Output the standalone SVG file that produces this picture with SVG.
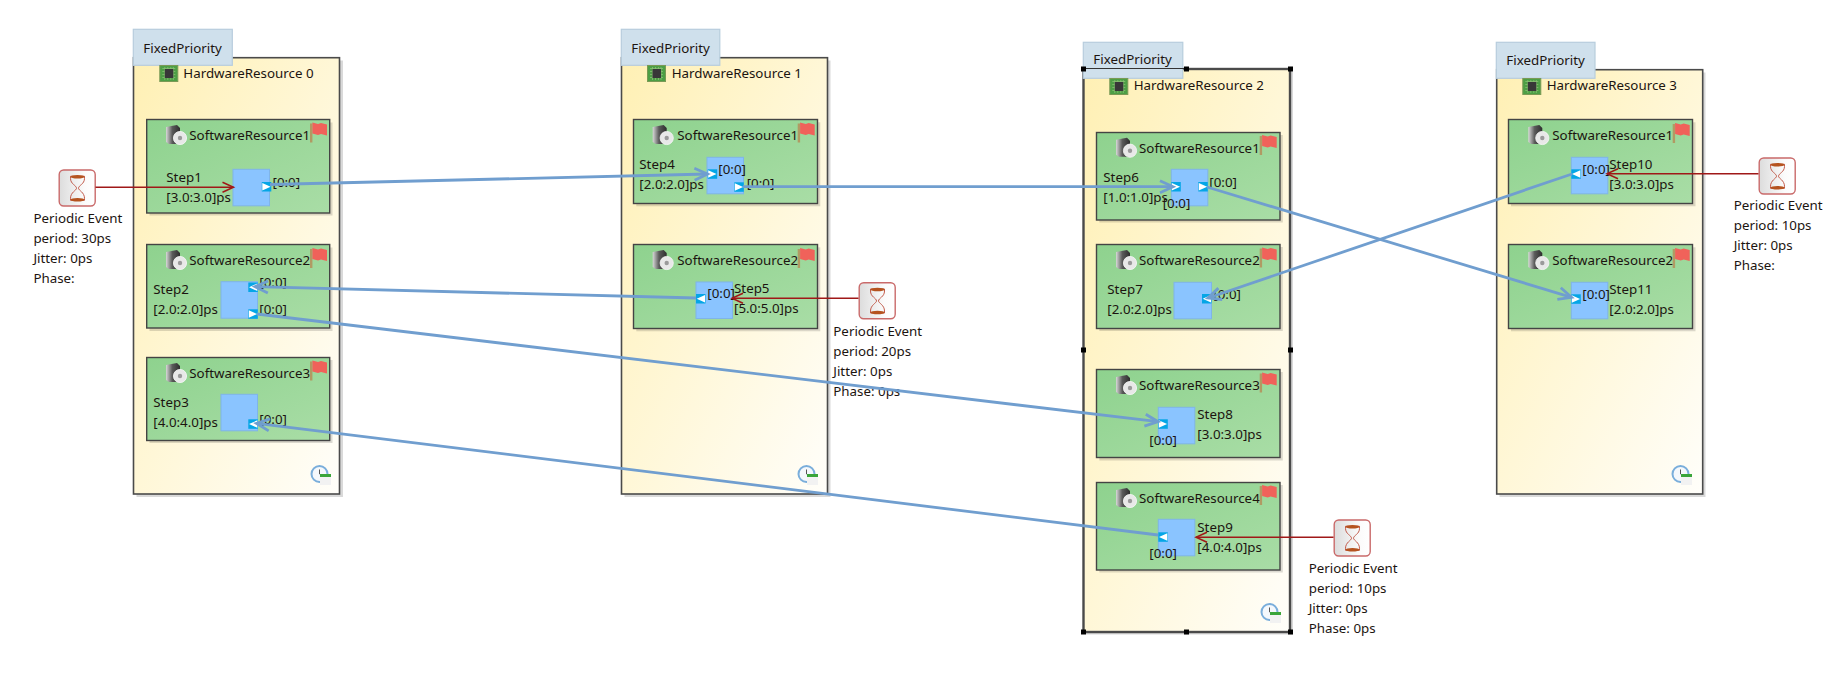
<svg xmlns="http://www.w3.org/2000/svg" width="1838" height="673" viewBox="0 0 1838 673">
<style>
text{font-family:"Noto Sans","Open Sans","Liberation Sans",sans-serif;font-size:13.33px;fill:#1c1410}
.hw{fill:url(#hwFill);stroke:#4a4a4a;stroke-width:1.6}
.hws{fill:#d9d9d9}
.sw{fill:url(#swFill);stroke:#444;stroke-width:1.4}
.sws{fill:#000;fill-opacity:.14}
.tab{fill:#cfe0ec;stroke:#b7cddd;stroke-width:1.2}
.step{fill:#8ac4ff;stroke:#7fb4e8;stroke-width:1}
.blue{fill:none;stroke:#709ecf;stroke-width:2.8}
.red{fill:none;stroke:#a01818;stroke-width:1.5}
.ev{fill:url(#evFill);stroke:#c96a6a;stroke-width:1.4}
.h{fill:#000}
</style>
<defs>
<linearGradient id="hwFill" x1="0" y1="0" x2="1" y2="1"><stop offset="0" stop-color="#fff0b4"/><stop offset="1" stop-color="#fffefa"/></linearGradient>
<linearGradient id="swFill" x1="0" y1="0" x2="1" y2="1"><stop offset="0" stop-color="#8ed28e"/><stop offset="1" stop-color="#a9dda6"/></linearGradient>
<linearGradient id="evFill" x1="0" y1="0" x2="1" y2="0"><stop offset="0" stop-color="#dcdcdc"/><stop offset=".7" stop-color="#fbfbfb"/><stop offset="1" stop-color="#fff"/></linearGradient>
<linearGradient id="hd" x1="0" y1="0" x2="1" y2="0"><stop offset="0" stop-color="#d8d8d8"/><stop offset=".45" stop-color="#5a5a5a"/><stop offset="1" stop-color="#2e2e2e"/></linearGradient>
<marker id="blueHead" markerUnits="userSpaceOnUse" markerWidth="20" markerHeight="20" viewBox="0 0 20 20" refX="16" refY="10" orient="auto"><path d="M3 4L16 10L3 16" fill="none" stroke="#709ecf" stroke-width="2.8"/></marker>
<marker id="redHead" markerUnits="userSpaceOnUse" markerWidth="20" markerHeight="20" viewBox="0 0 20 20" refX="15" refY="10" orient="auto"><path d="M4 5L15 10L4 15" fill="none" stroke="#a01818" stroke-width="1.5"/></marker>
<g id="chip"><rect x=".5" y=".5" width="18" height="16" fill="#4d9f45" stroke="#7a9a55"/><path d="M3 3.500H16M3 6.500H16M3 9.500H16M3 12.500H16M5.500 2V15M8.500 2V15M11.500 2V15M14 2V15" stroke="#a9d08c" stroke-width=".7" opacity=".75"/><rect x="5.500" y="4" width="8.500" height="9" fill="#383838"/></g>
<g id="disk"><path d="M0 2L11 0L14 3V19L3 19L0 17Z" fill="url(#hd)"/><circle cx="14" cy="13" r="6.600" fill="#e8e8e8" stroke="#f8f8f8" stroke-width=".8"/><circle cx="14" cy="13" r="2.200" fill="#9a9a9a"/></g>
<g id="flag"><rect x="0" y="2" width="2.400" height="19" fill="#b19a63"/><path d="M2.400 1L8 2.500L11 1.500L17 3V14L11 12.500L8 13.500L2.400 12Z" fill="#f0625a"/></g>
<g id="clock"><circle cx="8.500" cy="9" r="8" fill="#f4f8fc" stroke="#7aaedb" stroke-width="2"/><path d="M8.500 4.500V9L11.500 11" fill="none" stroke="#555" stroke-width="1"/><rect x="9" y="9" width="11" height="11" fill="#f2f2f2"/><rect x="9" y="9" width="11" height="3" fill="#3aa53a"/></g>
<g id="hourglass"><rect x=".7" y=".7" width="36" height="36" rx="4.500" class="ev"/><path d="M12 7H26L26 9C26 15 20 16 20 19C20 21 26 23 26 29V31H12V29C12 23 18 21 18 19C18 16 12 15 12 9Z" fill="none" stroke="#c25a4a" stroke-width="1"/><ellipse cx="19" cy="7.500" rx="7" ry="1.800" fill="#b5531f"/><ellipse cx="19" cy="30.500" rx="7" ry="1.800" fill="#b5531f"/></g>
<g id="portR"><rect width="9.500" height="9.500" fill="#05a6e6"/><path d="M.5 1L8.800 4.800L.5 8.500Z" fill="#fff"/></g>
<g id="portL"><rect width="9.500" height="9.500" fill="#05a6e6"/><path d="M9 1L.7 4.800L9 8.500Z" fill="#fff"/></g>
</defs>
<rect width="1838" height="673" fill="#fff"/>

<g id="hw0">
<rect class="hws" x="136.500" y="60.500" width="206.500" height="436.500"/>
<rect class="hw" x="133.500" y="57.700" width="206" height="436.300"/>
<rect class="tab" x="133.300" y="29.300" width="99" height="36"/>
<text x="143.300" y="52.700">FixedPriority</text>
<use href="#chip" x="159.300" y="65"/>
<text x="183.300" y="77.700">HardwareResource 0</text>
<use href="#clock" x="311" y="465"/>
</g>
<g id="hw0-sw1"><rect class="sws" x="149.500" y="122.500" width="183" height="93"/><rect class="sw" x="146.700" y="119.500" width="183" height="93.500"/><use href="#disk" x="166" y="125"/><text x="189.300" y="140">SoftwareResource1</text><use href="#flag" x="310" y="121.500"/></g>
<g id="hw0-sw2"><rect class="sws" x="149.500" y="247.500" width="183" height="83.500"/><rect class="sw" x="146.700" y="244.500" width="183" height="83.500"/><use href="#disk" x="166" y="250"/><text x="189.300" y="265">SoftwareResource2</text><use href="#flag" x="310" y="247"/></g>
<g id="hw0-sw3"><rect class="sws" x="149.500" y="360" width="183" height="83"/><rect class="sw" x="146.700" y="357.500" width="183" height="83"/><use href="#disk" x="166" y="363"/><text x="189.300" y="378">SoftwareResource3</text><use href="#flag" x="310" y="359.500"/></g>
<g id="step1"><rect class="step" x="233" y="169.300" width="36.500" height="36.500"/><use href="#portR" x="261.800" y="182"/><text x="166.300" y="182">Step1</text><text x="166.300" y="202">[3.0:3.0]ps</text><text x="272.500" y="187">[0:0]</text></g>
<g id="step2"><rect class="step" x="221" y="281.700" width="36.500" height="36.500"/><use href="#portL" x="248.300" y="282.500"/><use href="#portR" x="248.300" y="309.300"/><text x="153.300" y="294">Step2</text><text x="153.300" y="314">[2.0:2.0]ps</text><text x="259.300" y="287">[0:0]</text><text x="259.300" y="314.300">[0:0]</text></g>
<g id="step3"><rect class="step" x="221" y="394.300" width="36.500" height="36.500"/><use href="#portL" x="248.300" y="419.300"/><text x="153.300" y="406.700">Step3</text><text x="153.300" y="427">[4.0:4.0]ps</text><text x="259.300" y="424">[0:0]</text></g>

<g id="hw1">
<rect class="hws" x="624.500" y="60.500" width="206" height="436.500"/>
<rect class="hw" x="621.500" y="57.700" width="206" height="436.300"/>
<rect class="tab" x="621.300" y="29.300" width="98.500" height="36"/>
<text x="631.300" y="52.700">FixedPriority</text>
<use href="#chip" x="647" y="65"/>
<text x="671.700" y="77.700">HardwareResource 1</text>
<use href="#clock" x="798" y="465"/>
</g>
<g id="hw1-sw1"><rect class="sws" x="636.300" y="122.300" width="184" height="84"/><rect class="sw" x="633.500" y="119.500" width="184" height="84"/><use href="#disk" x="652.700" y="125"/><text x="677.300" y="140">SoftwareResource1</text><use href="#flag" x="797.700" y="121.500"/></g>
<g id="hw1-sw2"><rect class="sws" x="636.300" y="247.300" width="184" height="84"/><rect class="sw" x="633.500" y="244.500" width="184" height="84"/><use href="#disk" x="652.700" y="250"/><text x="677.300" y="265">SoftwareResource2</text><use href="#flag" x="797.700" y="247"/></g>
<g id="step4"><rect class="step" x="707" y="157.300" width="36.500" height="36.500"/><use href="#portR" x="707.700" y="169.300"/><use href="#portR" x="734.300" y="182.300"/><text x="639.300" y="169">Step4</text><text x="639.300" y="189">[2.0:2.0]ps</text><text x="718.300" y="174">[0:0]</text><text x="746.700" y="188">[0:0]</text></g>
<g id="step5"><rect class="step" x="696" y="282" width="36.500" height="36.500"/><use href="#portL" x="696" y="294"/><text x="734" y="293.300">Step5</text><text x="734" y="313">[5.0:5.0]ps</text><text x="707.300" y="298">[0:0]</text></g>

<g id="hw2">
<rect class="hws" x="1086" y="71.500" width="207" height="563"/>
<rect class="hw" x="1083.500" y="69" width="206.500" height="563" style="stroke-width:2.400"/>
<rect class="tab" x="1083.300" y="42.300" width="99.500" height="36"/>
<path d="M1083.500 68.500H1186" stroke="#333" stroke-width="1" fill="none"/>
<text x="1093.300" y="64.300">FixedPriority</text>
<use href="#chip" x="1109.300" y="78"/>
<text x="1133.700" y="90">HardwareResource 2</text>
<use href="#clock" x="1261" y="603"/>
</g>
<g id="hw2-sw1"><rect class="sws" x="1099.300" y="135" width="183.500" height="87.500"/><rect class="sw" x="1096.500" y="132.500" width="183.500" height="87.500"/><use href="#disk" x="1116" y="137.700"/><text x="1139" y="153.300">SoftwareResource1</text><use href="#flag" x="1259.700" y="134"/></g>
<g id="hw2-sw2"><rect class="sws" x="1099.300" y="247" width="183.500" height="84"/><rect class="sw" x="1096.500" y="244.500" width="183.500" height="84"/><use href="#disk" x="1116" y="250"/><text x="1139" y="265">SoftwareResource2</text><use href="#flag" x="1259.700" y="246.500"/></g>
<g id="hw2-sw3"><rect class="sws" x="1099.300" y="372" width="183.500" height="88.500"/><rect class="sw" x="1096.500" y="369.500" width="183.500" height="88"/><use href="#disk" x="1116" y="375"/><text x="1139" y="390">SoftwareResource3</text><use href="#flag" x="1259.700" y="371.500"/></g>
<g id="hw2-sw4"><rect class="sws" x="1099.300" y="485" width="183.500" height="87.500"/><rect class="sw" x="1096.500" y="482.500" width="183.500" height="87.500"/><use href="#disk" x="1116" y="488"/><text x="1139" y="502.700">SoftwareResource4</text><use href="#flag" x="1259.700" y="484"/></g>
<g id="step6"><rect class="step" x="1171.300" y="169.300" width="36.500" height="36.500"/><use href="#portR" x="1171.300" y="182"/><use href="#portR" x="1198.300" y="182"/><text x="1103.300" y="181.700">Step6</text><text x="1103.300" y="202.300">[1.0:1.0]ps</text><text x="1209.300" y="187.300">[0:0]</text><text x="1162.700" y="208.300">[0:0]</text></g>
<g id="step7"><rect class="step" x="1174" y="282.300" width="37.500" height="36.500"/><use href="#portL" x="1202" y="294"/><text x="1107.300" y="294">Step7</text><text x="1107.300" y="314.300">[2.0:2.0]ps</text><text x="1213.300" y="299.300">[0:0]</text></g>
<g id="step8"><rect class="step" x="1158.300" y="407.300" width="36.500" height="36.500"/><use href="#portR" x="1158.300" y="419.300"/><text x="1197.300" y="419.300">Step8</text><text x="1197.300" y="439">[3.0:3.0]ps</text><text x="1149.300" y="445">[0:0]</text></g>
<g id="step9"><rect class="step" x="1158.300" y="519.300" width="36.500" height="36.500"/><use href="#portL" x="1158.300" y="532.300"/><text x="1197.300" y="532">Step9</text><text x="1197.300" y="552">[4.0:4.0]ps</text><text x="1149.300" y="558.300">[0:0]</text></g>

<g id="hw3">
<rect class="hws" x="1499.500" y="72.500" width="206" height="424.500"/>
<rect class="hw" x="1496.700" y="69.700" width="206" height="424.300"/>
<rect class="tab" x="1496.300" y="42.300" width="98.700" height="36"/>
<text x="1506.300" y="64.700">FixedPriority</text>
<use href="#chip" x="1522.300" y="78"/>
<text x="1546.700" y="90">HardwareResource 3</text>
<use href="#clock" x="1672" y="465"/>
</g>
<g id="hw3-sw1"><rect class="sws" x="1511" y="122.300" width="184.500" height="84"/><rect class="sw" x="1508.500" y="119.500" width="184" height="84"/><use href="#disk" x="1528.300" y="125"/><text x="1552.300" y="140">SoftwareResource1</text><use href="#flag" x="1672.700" y="122"/></g>
<g id="hw3-sw2"><rect class="sws" x="1511" y="247.300" width="184.500" height="84"/><rect class="sw" x="1508.500" y="244.500" width="184" height="84"/><use href="#disk" x="1528.300" y="250"/><text x="1552.300" y="265">SoftwareResource2</text><use href="#flag" x="1672.700" y="247"/></g>
<g id="step10"><rect class="step" x="1571.300" y="157.300" width="36.500" height="36.500"/><use href="#portL" x="1571.300" y="169.300"/><text x="1609.300" y="169">Step10</text><text x="1609.300" y="189.300">[3.0:3.0]ps</text><text x="1582.300" y="174.300">[0:0]</text></g>
<g id="step11"><rect class="step" x="1571.300" y="282.300" width="36.500" height="36.500"/><use href="#portR" x="1571.300" y="294.300"/><text x="1609.300" y="294.300">Step11</text><text x="1609.300" y="314">[2.0:2.0]ps</text><text x="1582.300" y="299">[0:0]</text></g>

<g id="event0"><use href="#hourglass" x="58.500" y="169.300"/><text x="33.400" y="223">Periodic Event</text><text x="33.400" y="243">period: 30ps</text><text x="33.400" y="263">Jitter: 0ps</text><text x="33.400" y="283">Phase:</text></g>
<g id="event1"><use href="#hourglass" x="858.500" y="282"/><text x="833.300" y="336">Periodic Event</text><text x="833.300" y="356">period: 20ps</text><text x="833.300" y="376">Jitter: 0ps</text><text x="833.300" y="396">Phase: 0ps</text></g>
<g id="event2"><use href="#hourglass" x="1333.500" y="519.300"/><text x="1308.700" y="573">Periodic Event</text><text x="1308.700" y="593">period: 10ps</text><text x="1308.700" y="613">Jitter: 0ps</text><text x="1308.700" y="633">Phase: 0ps</text></g>
<g id="event3"><use href="#hourglass" x="1758.500" y="157.300"/><text x="1733.700" y="210">Periodic Event</text><text x="1733.700" y="230">period: 10ps</text><text x="1733.700" y="250">Jitter: 0ps</text><text x="1733.700" y="270">Phase:</text></g>

<g id="connectors">
<path class="blue" d="M270 184.500L707.500 174" marker-end="url(#blueHead)"/>
<path class="blue" d="M743 186.700L1173 186.700" marker-end="url(#blueHead)"/>
<path class="blue" d="M1207 187L1571.500 297.300" marker-end="url(#blueHead)"/>
<path class="blue" d="M1572 174L1208 298" marker-end="url(#blueHead)"/>
<path class="blue" d="M696 298L255 286.700" marker-end="url(#blueHead)"/>
<path class="blue" d="M257 314L1158 421.700" marker-end="url(#blueHead)"/>
<path class="blue" d="M1158 535L256.500 423.300" marker-end="url(#blueHead)"/>
<path class="red" d="M95.500 187.300H233.500" marker-end="url(#redHead)"/>
<path class="red" d="M858.500 298.300H732" marker-end="url(#redHead)"/>
<path class="red" d="M1333.500 537.300H1196" marker-end="url(#redHead)"/>
<path class="red" d="M1758.500 173.700H1607" marker-end="url(#redHead)"/>
</g>

<g id="selection-handles">
<rect class="h" x="1081" y="66.500" width="5" height="5"/><rect class="h" x="1184" y="66.500" width="5" height="5"/><rect class="h" x="1288" y="66.500" width="5" height="5"/>
<rect class="h" x="1081" y="347.500" width="5" height="5"/><rect class="h" x="1288" y="347.500" width="5" height="5"/>
<rect class="h" x="1081" y="629.500" width="5" height="5"/><rect class="h" x="1184" y="629.500" width="5" height="5"/><rect class="h" x="1288" y="629.500" width="5" height="5"/>
</g>
</svg>
